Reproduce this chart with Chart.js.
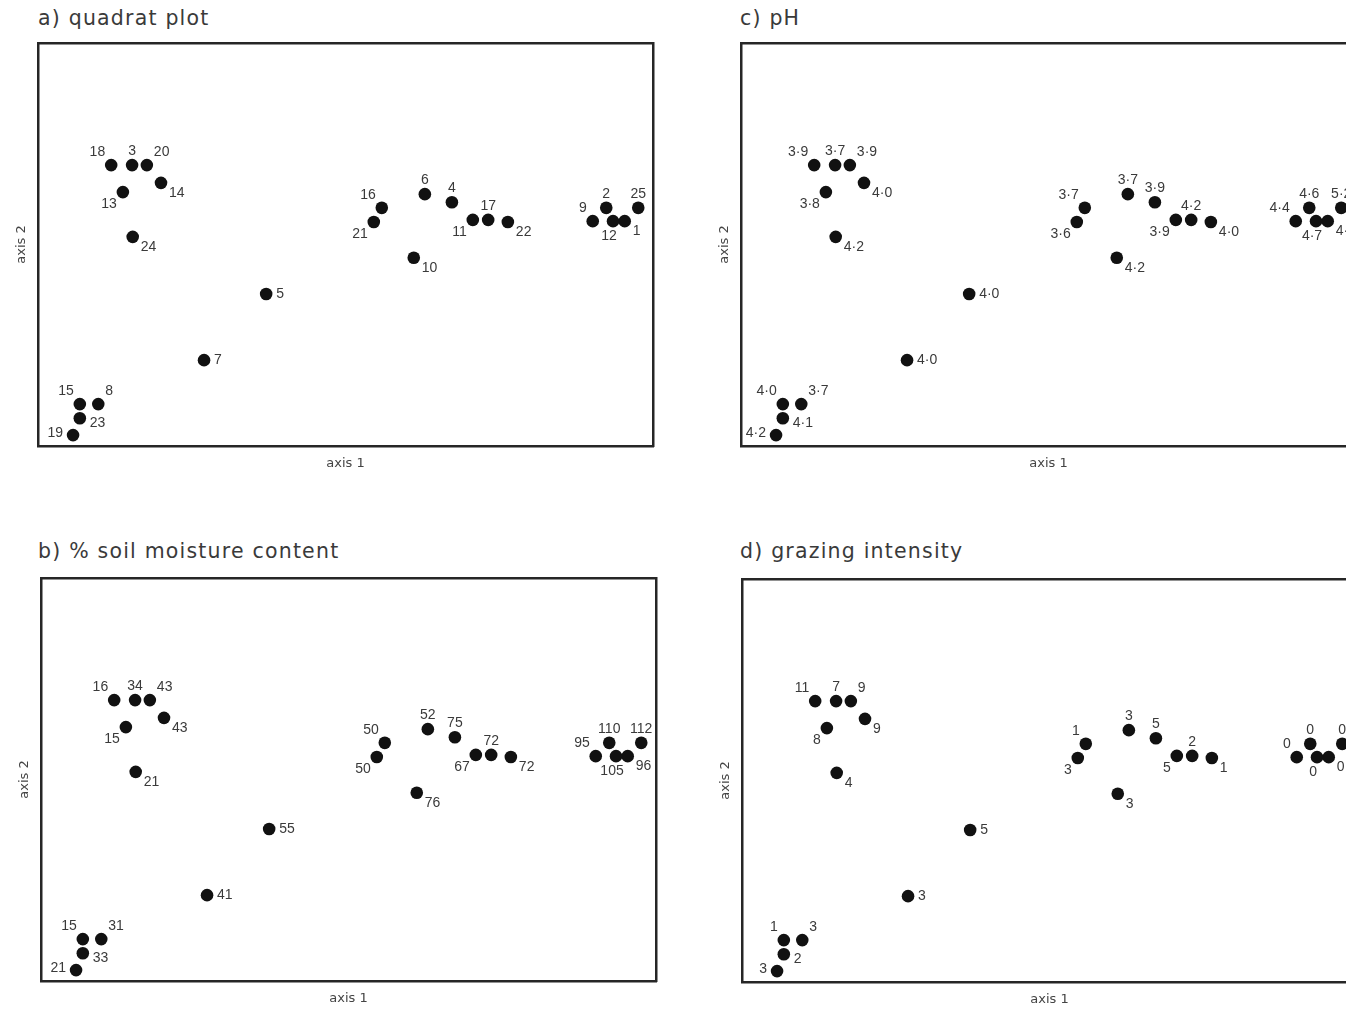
<!DOCTYPE html>
<html>
<head>
<meta charset="utf-8">
<script src="https://cdn.jsdelivr.net/npm/chart.js@4.4.1/dist/chart.umd.min.js"></script>
<style>
    html, body { margin: 0; background: #fff; width: 1346px; height: 1009px; overflow: hidden; }
    .panel { position: absolute; width: 680px; height: 480px; }
    .ttl { position: absolute; font: 20.5px "DejaVu Sans", sans-serif; letter-spacing: 1.2px; line-height: 24px; color: #3a3a3a; white-space: nowrap; }
</style>
</head>
<body>
<div class="ttl" style="left:38px;top:6px">a) quadrat plot</div>
<div class="ttl" style="left:740px;top:6px">c) pH</div>
<div class="ttl" style="left:38px;top:539px">b) % soil moisture content</div>
<div class="ttl" style="left:740px;top:539px">d) grazing intensity</div>

<div class="panel" style="left:0;top:0"><canvas id="quadratChart" width="680" height="480"></canvas></div>
<div class="panel" style="left:703px;top:0"><canvas id="phChart" width="680" height="480"></canvas></div>
<div class="panel" style="left:3px;top:535px"><canvas id="moistureChart" width="680" height="480"></canvas></div>
<div class="panel" style="left:704px;top:536px"><canvas id="grazingChart" width="680" height="480"></canvas></div>

<script>
// quadrats 1..25, same ordination positions in every panel
const quadrats = [1, 2, 3, 4, 5, 6, 7, 8, 9, 10, 11, 12, 13, 14, 15, 16, 17, 18, 19, 20, 21, 22, 23, 24, 25];
const axis1 = [95.4, 92.4, 15.3, 67.3, 37.1, 62.9, 27.0, 9.8, 90.2, 61.1, 70.7, 93.5, 13.8, 20.0, 6.8, 55.9, 73.2, 11.9, 5.7, 17.7, 54.6, 76.4, 6.8, 15.4, 97.6];
const axis2 = [55.8, 59.1, 69.7, 60.5, 37.7, 62.5, 21.3, 10.4, 55.8, 46.7, 56.1, 55.8, 63.0, 65.3, 10.4, 59.1, 56.1, 69.7, 2.7, 69.7, 55.6, 55.6, 6.9, 51.9, 59.1];

const soilPH = ['4·8', '4·6', '3·7', '3·9', '4·0', '3·7', '4·0', '3·7', '4·4', '4·2', '3·9', '4·7', '3·8', '4·0', '4·0', '3·7', '4·2', '3·9', '4·2', '3·9', '3·6', '4·0', '4·1', '4·2', '5·2'];
const soilMoisture = [96, 110, 34, 75, 55, 52, 41, 31, 95, 76, 67, 105, 15, 43, 15, 50, 72, 16, 21, 43, 50, 72, 33, 21, 112];
const grazing = [0, 0, 7, 5, 5, 3, 3, 3, 0, 3, 5, 0, 8, 9, 1, 1, 2, 11, 3, 9, 3, 1, 2, 4, 0];

// where each quadrat's label sits around its dot
const labelSide = ['se', 'n', 'n', 'n', 'e', 'n', 'e', 'ne', 'nw', 'se', 'sw', 's', 'sw', 'se', 'nw', 'nw', 'n', 'nw', 'w', 'ne', 'sw', 'se', 'ese', 'se', 'n'];
const OFFSETS = {
    n: [0, -14, 'center'], ne: [7, -13, 'left'], e: [10, 0, 'left'], ese: [10, 5, 'left'],
    se: [8, 10, 'left'], s: [-4, 15, 'center'], sw: [-6, 12, 'right'], w: [-10, -2, 'right'], nw: [-6, -13, 'right']
};

const pointLabels = {
    id: 'pointLabels',
    afterDatasetsDraw(chart) {
        const ctx = chart.ctx;
        const texts = chart.data.datasets[0].pointText;
        ctx.save();
        ctx.font = '14px "Liberation Sans", sans-serif';
        ctx.fillStyle = '#3a3a3a';
        ctx.textBaseline = 'middle';
        chart.getDatasetMeta(0).data.forEach((pt, i) => {
            const [dx, dy, align] = OFFSETS[labelSide[i]];
            ctx.textAlign = align;
            ctx.fillText(String(texts[i]), pt.x + dx, pt.y + dy);
        });
        ctx.restore();
    }
};

const edge = (pos, size, title) => ({
    type: 'linear',
    position: pos,
    min: 0,
    max: 100,
    ticks: { display: false },
    grid: { display: false, drawTicks: false },
    border: { display: true, color: '#262626', width: 2.5 },
    title: title
        ? { display: true, text: title, color: '#444', font: { size: 13, family: '"DejaVu Sans", sans-serif' },
            padding: pos === 'left' ? { top: 4, bottom: 0 } : { top: 0, bottom: 3 } }
        : { display: false },
    afterFit: s => { if (s.isHorizontal()) s.height = size; else s.width = size; }
});

const drawPanel = (id, texts) => new Chart(document.getElementById(id), {
    type: 'scatter',
    data: {
        datasets: [{
            data: quadrats.map((q, i) => ({ x: axis1[i], y: axis2[i] })),
            pointText: texts,
            backgroundColor: '#111',
            borderWidth: 0,
            pointRadius: 6.3,
            pointHoverRadius: 6.3
        }]
    },
    options: {
        responsive: false,
        animation: false,
        devicePixelRatio: 1,
        events: [],
        layout: { padding: { left: 10, top: 41, right: 25, bottom: 6 } },
        plugins: { legend: { display: false }, tooltip: { enabled: false } },
        scales: {
            x: edge('bottom', 28, 'axis 1'),
            y: edge('left', 28, 'axis 2'),
            x2: edge('top', 2),
            y2: edge('right', 2)
        }
    },
    plugins: [pointLabels]
});

drawPanel('quadratChart', quadrats);
drawPanel('phChart', soilPH);
drawPanel('moistureChart', soilMoisture);
drawPanel('grazingChart', grazing);
</script>
</body>
</html>
